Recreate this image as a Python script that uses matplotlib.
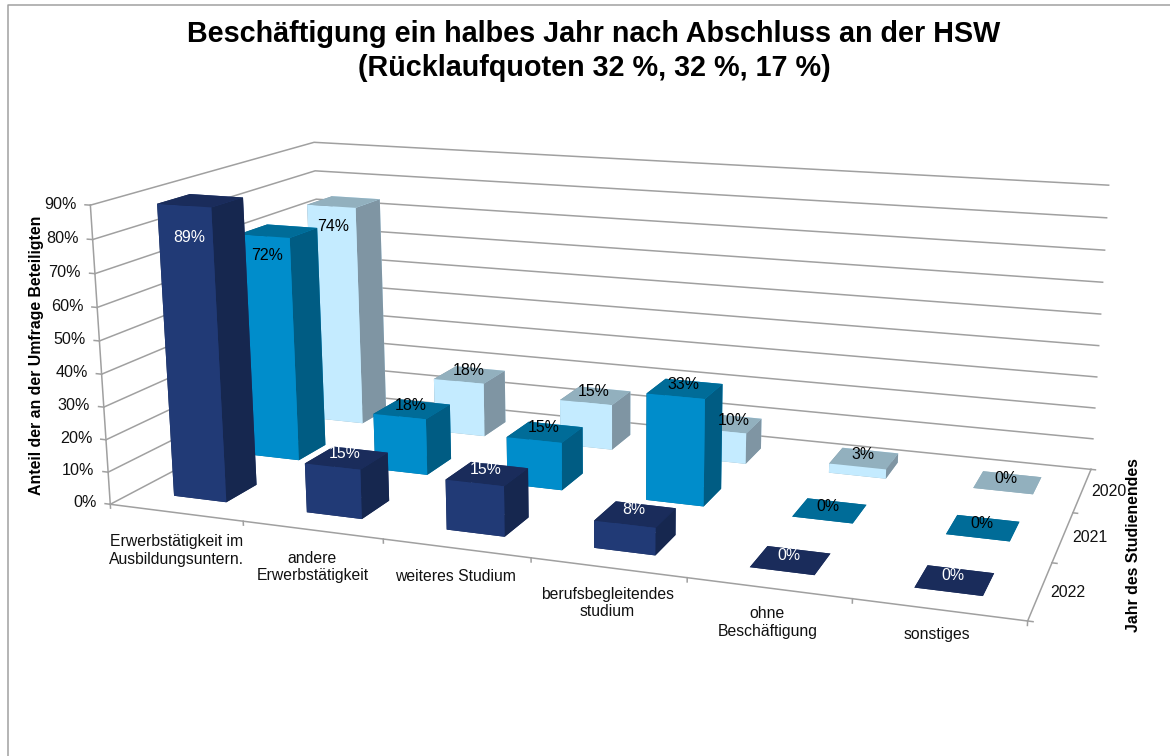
import numpy as np
import matplotlib
matplotlib.use('Agg')
import matplotlib.pyplot as plt
from matplotlib.lines import Line2D
from mpl_toolkits.mplot3d import proj3d

plt.rcParams['font.family'] = ['Liberation Sans', 'DejaVu Sans']

# Daten
kategorien = ['Erwerbstätigkeit im\nAusbildungsuntern.', 'andere\nErwerbstätigkeit', 'weiteres Studium',
              'berufsbegleitendes\nstudium', 'ohne\nBeschäftigung', 'sonstiges']
jahre = ['2022', '2021', '2020']
werte_2022 = [89, 15, 15, 8, 0, 0]
werte_2021 = [72, 18, 15, 33, 0, 0]
werte_2020 = [74, 18, 15, 10, 3, 0]
z_ticks = [0, 10, 20, 30, 40, 50, 60, 70, 80, 90]

# Farben: unten, oben, vorne, hinten, links, rechts
farben = [
    ['#1A2C5B', '#1A2C5B', '#213A76', '#213A76', '#16274F', '#16274F'],
    ['#006C98', '#006C98', '#008DCB', '#008DCB', '#005C83', '#005C83'],
    ['#92B0BE', '#92B0BE', '#C4EBFF', '#C4EBFF', '#7F95A3', '#7F95A3'],
]
label_farben = ['white', 'black', 'black']
grau = '#A0A0A0'

fig = plt.figure(figsize=(11.7, 7.56), dpi=100)
ax = fig.add_axes([0, -207 / 756, 1, 1170 / 756], projection='3d')
ax.set_axis_off()
ax.computed_zorder = False
ax.apply_aspect()

# Perspektive aus Passpunkten (Welt -> Pixel im Bild)
welt = np.array([[0, 0, 0], [6, 0, 0], [6, 3, 0], [0, 0, 90], [0, 3, 90], [6, 3, 90],
                 [1, 0, 0], [2, 0, 0], [3, 0, 0], [4, 0, 0], [5, 0, 0],
                 [6, 1, 0], [6, 2, 0], [0, 0, 10], [0, 0, 40], [0, 0, 80], [0, 3, 80]], dtype=float)
pixel = np.array([[110.7, 504], [1026.7, 620], [1091, 469.5], [90.7, 205], [314, 142.3], [1108.7, 185.7],
                  [243.3, 521.7], [383.3, 540], [531, 557.7], [686.7, 578.3], [851.7, 599.3],
                  [1055, 562.3], [1071.7, 512.3], [108.3, 471.7], [101, 374.3], [92.7, 239.3], [315, 170.7]])
ziel = ax.transData.inverted().transform(np.column_stack([pixel[:, 0], 756 - pixel[:, 1]]))

A, b = [], []
for (x, y, z), (u, v) in zip(welt, ziel):
    A.append([x, y, z, 1, 0, 0, 0, 0, -u * x, -u * y, -u * z])
    A.append([0, 0, 0, 0, x, y, z, 1, -v * x, -v * y, -v * z])
    b += [u, v]
p = np.linalg.lstsq(np.array(A), np.array(b), rcond=None)[0]
M = np.array([[p[0], p[1], p[2], p[3]],
              [p[4], p[5], p[6], p[7]],
              [0, 0, 0, -1],
              [p[8], p[9], p[10], 1]])
ax.get_proj = lambda: M


def beschriften(x, y, z, text, **kw):
    # Text an der projizierten Stelle als normaler 2D-Text
    u, v, _ = proj3d.proj_transform(x, y, z, M)
    ax.text2D(u, v, text, transform=ax.transData, **kw)


# Wände und Boden
for z in z_ticks:
    ax.plot([0, 0, 6], [0, 3, 3], [z, z, z], color=grau, lw=1.1, zorder=1)
    ax.plot([-0.04, 0], [0, 0], [z, z], color=grau, lw=1.1, zorder=1)
    beschriften(-0.105, 0, z, f'{z}%', ha='right', va='center', fontsize=11.6, color='#111111', zorder=50)
ax.plot([0, 0], [0, 0], [0, 90], color=grau, lw=1.1, zorder=1)
ax.plot([0, 6, 6], [0, 0, 3], [0, 0, 0], color=grau, lw=1.1, zorder=1)
for i in range(7):
    ax.plot([i, i], [0, 0], [0, -1.2], color=grau, lw=1.1, zorder=1)
for j in range(4):
    ax.plot([6, 6.03], [j, j], [0, 0], color=grau, lw=1.1, zorder=1)

# Balken von hinten nach vorne
breite = 0.4
tiefe = 0.4
reihen = [werte_2022, werte_2021, werte_2020]
zo = 2
for j in [2, 1, 0]:
    for i, wert in enumerate(reihen[j]):
        ax.bar3d(i + (1 - breite) / 2, j + (1 - tiefe) / 2, 0, breite, tiefe, wert,
                 color=farben[j], shade=False, linewidth=0, zorder=zo)
        zo += 1
        lx, lz = i + 0.49, wert + 1.3
        if wert > 50:
            # hohe Balken: Wert steht im Balken
            lx, lz = i + 0.4, wert * 0.83 + 4
        if (i, j) == (3, 2):
            lx += 0.06
        beschriften(lx, j + 0.5, lz, f'{wert}%', ha='center', va='center', fontsize=11.4,
                    color=label_farben[j], zorder=60)

# Achsenbeschriftung
for i, name in enumerate(kategorien):
    beschriften(i + 0.495, 0, -6.8 + 0.4 * i, name, ha='center', va='top', fontsize=11.3, color='#111111',
                linespacing=1.2, zorder=50)
for j, jahr in enumerate(jahre):
    beschriften(6.06, j + 0.5, 0, jahr, ha='left', va='center', fontsize=11.4, color='#111111', zorder=50)

fig.text(594 / 1170, 1 - 51 / 756, 'Beschäftigung ein halbes Jahr nach Abschluss an der HSW\n(Rücklaufquoten 32 %, 32 %, 17 %)',
         ha='center', va='center', fontsize=20.7, fontweight='bold', linespacing=1.25)
fig.text(37 / 1170, 1 - 355.5 / 756, 'Anteil der an der Umfrage Beteiligten', rotation=90, ha='center', va='center',
         fontsize=11.4, fontweight='bold')
fig.text(1134 / 1170, 1 - 545.5 / 756, 'Jahr des Studienendes', rotation=90, ha='center', va='center',
         fontsize=11.4, fontweight='bold')

# Rahmen
fig.add_artist(Line2D([8.3 / 1170, 8.3 / 1170, 1], [0, 1 - 5.3 / 756, 1 - 5.3 / 756], color=grau, lw=1.1))

fig.savefig('out.png', dpi=100)
